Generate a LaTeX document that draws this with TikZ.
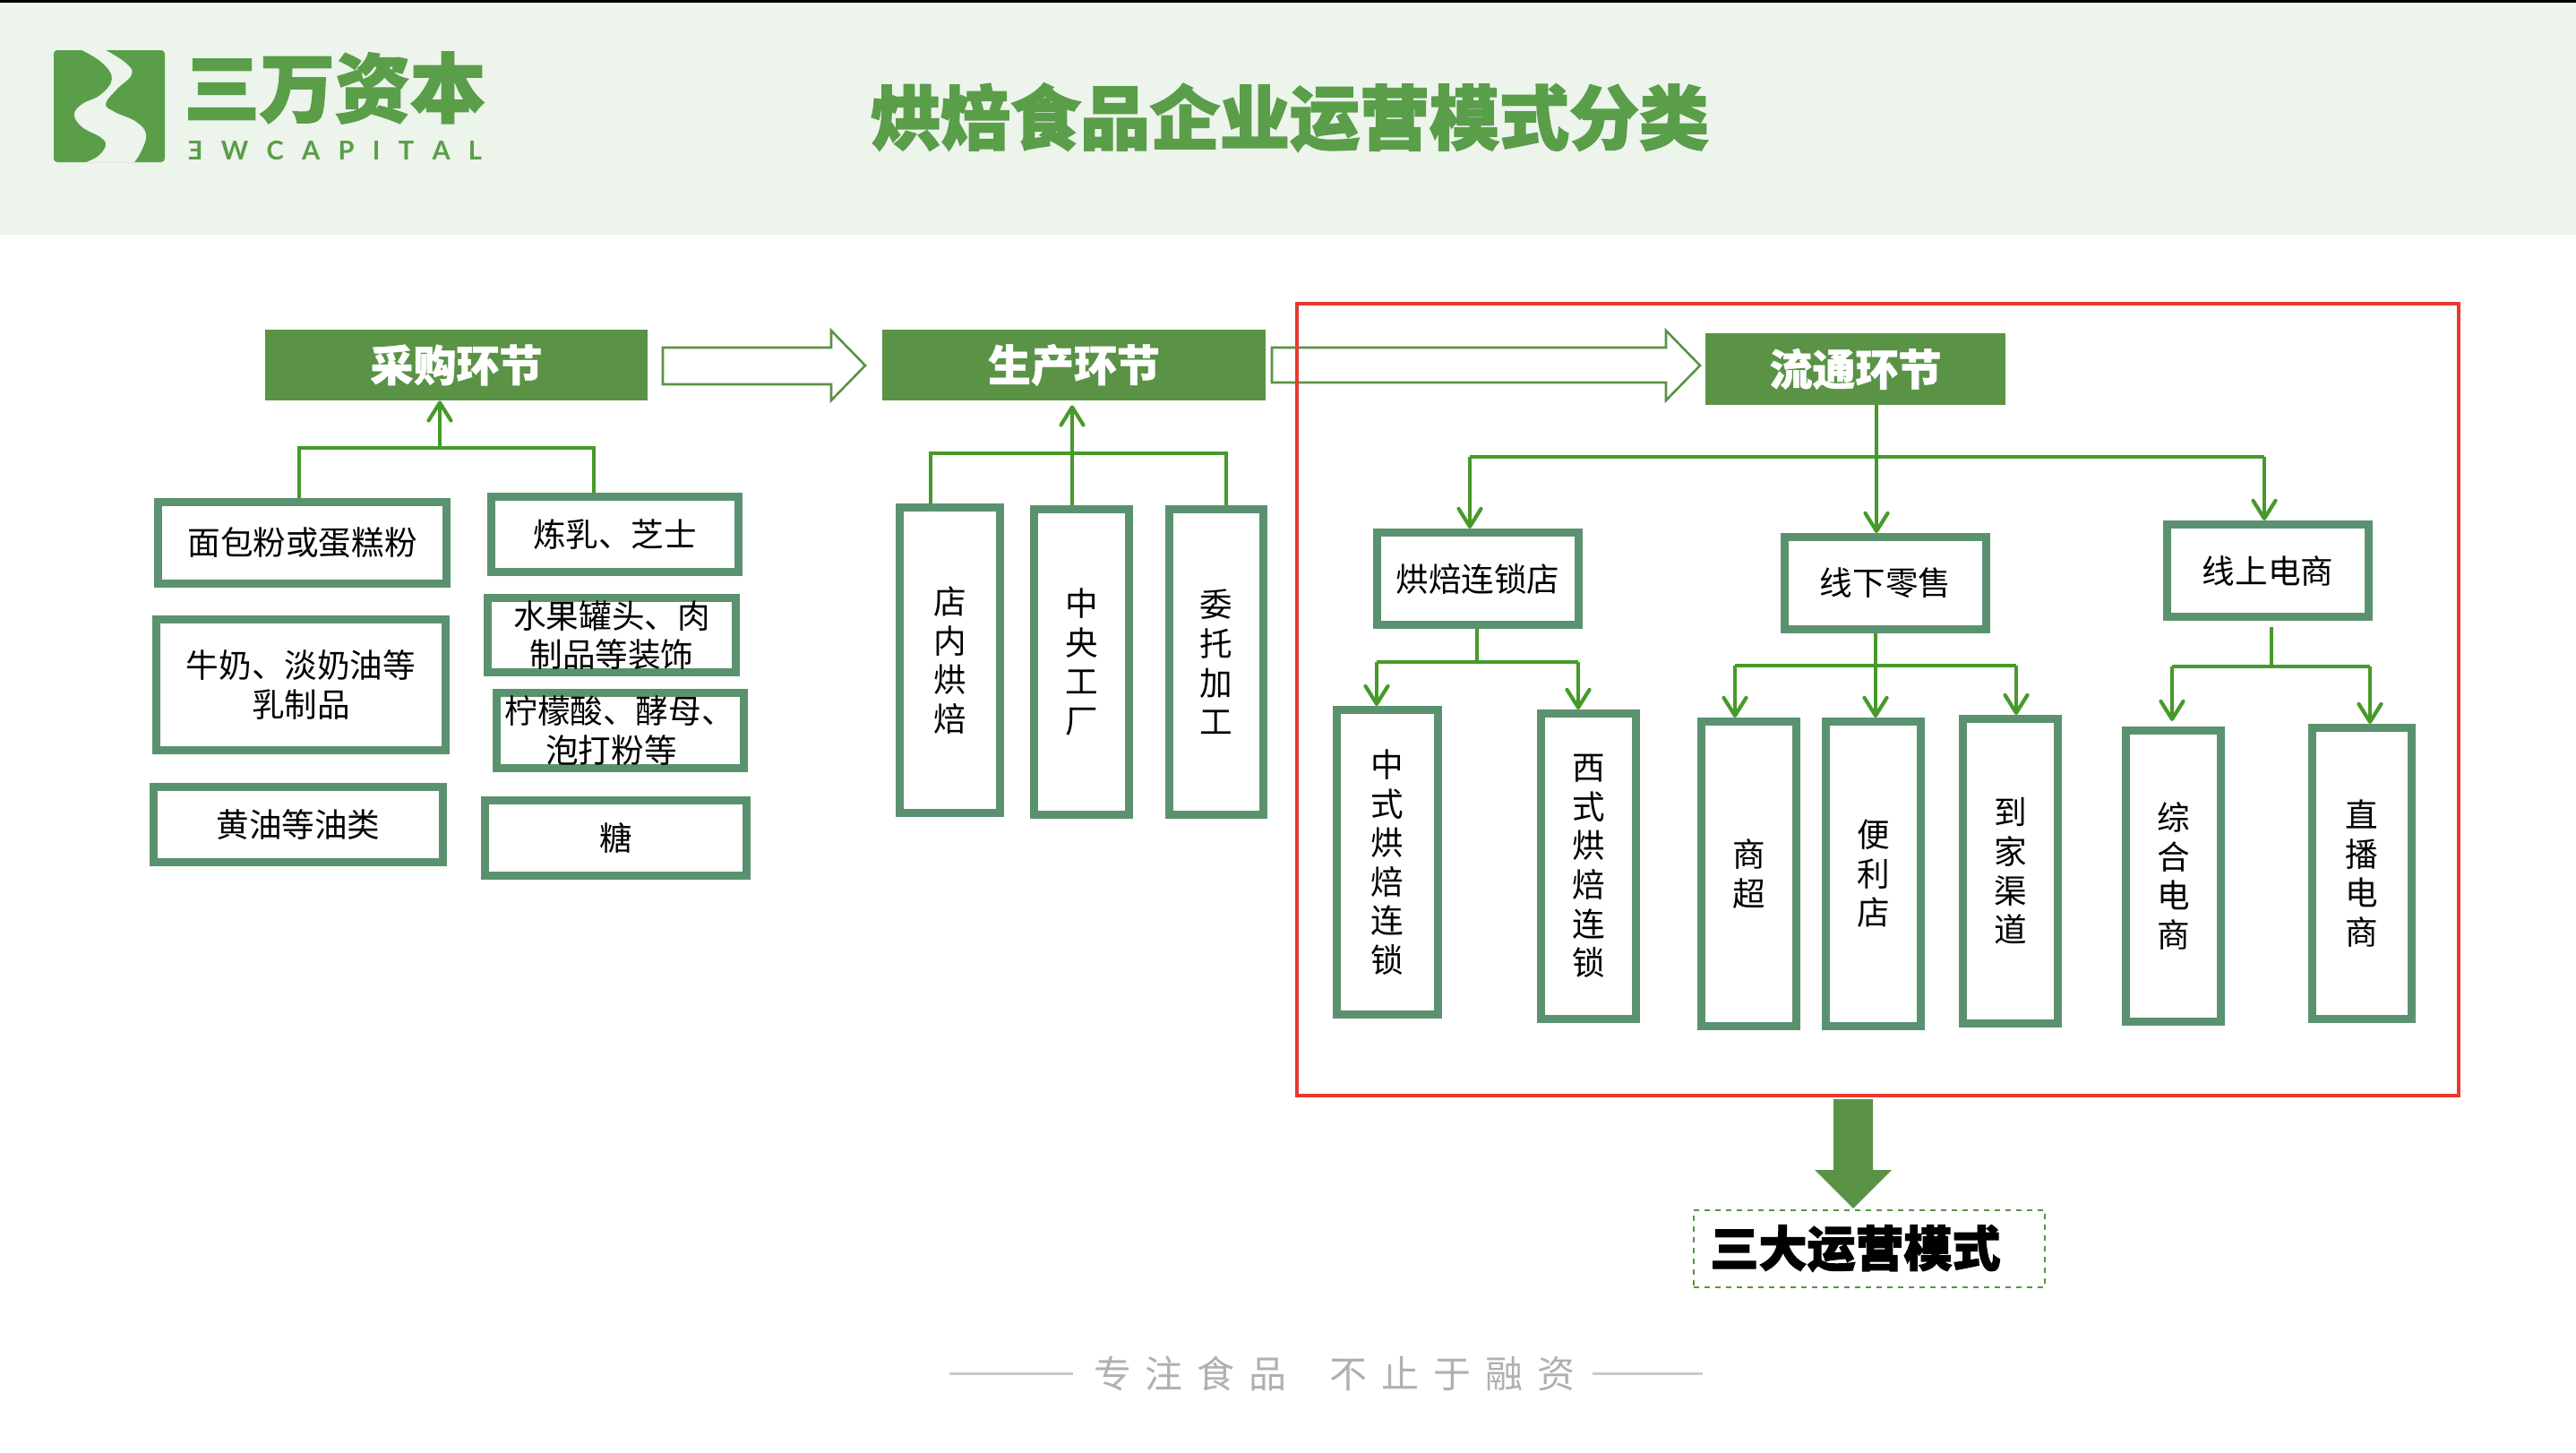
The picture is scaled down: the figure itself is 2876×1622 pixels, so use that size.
\documentclass[tikz,border=0pt]{standalone}
\usepackage{fontspec}
\usepackage{graphicx}
\usetikzlibrary{arrows.meta,calc}
\setmainfont{Noto Sans CJK SC}
\newfontfamily\hvf[BoldFeatures={FakeBold=1}]{Noto Sans CJK SC}
\newfontfamily\hvx[BoldFeatures={FakeBold=2.2}]{Noto Sans CJK SC}
\newfontfamily\latf{Lato}
\definecolor{band}{HTML}{EDF4EC}
\definecolor{logog}{HTML}{5A9E49}
\definecolor{headg}{HTML}{5A9346}
\definecolor{boxg}{HTML}{5A9270}
\definecolor{lineg}{HTML}{479A2A}
\definecolor{redl}{HTML}{E8392F}
\tikzset{
  greenbox/.style={draw=boxg,line width=4.5pt,fill=white,inner sep=0pt,align=center,font=\fontsize{18.3}{21.8}\selectfont,text=black},
  headbox/.style={fill=headg,inner sep=0pt,align=center,text=white,font=\hvf\bfseries\fontsize{24}{24}\selectfont},
  conn/.style={draw=lineg,line width=2.1pt},
  connarrow/.style={conn,-{Straight Barb[length=10pt,width=12.5pt,round]}},
  hollow/.style={draw=headg,line width=1.3pt,fill=white,line join=miter},
}
\newcommand\gb[6]{%
  \pgfmathsetmacro\ccx{(#2+#4)/2}\pgfmathsetmacro\ccy{(#3+#5)/2}%
  \pgfmathsetmacro\ww{(#4-#2-9)*0.5}\pgfmathsetmacro\hh{(#5-#3-9)*0.5}%
  \node[greenbox,minimum width=\ww pt,minimum height=\hh pt] (#1) at (\ccx,\ccy) {#6};}
\newcommand\hb[6]{%
  \pgfmathsetmacro\ccx{(#2+#4)/2}\pgfmathsetmacro\ccy{(#3+#5)/2}%
  \pgfmathsetmacro\ww{(#4-#2)*0.5}\pgfmathsetmacro\hh{(#5-#3)*0.5}%
  \node[headbox,minimum width=\ww pt,minimum height=\hh pt] (#1) at (\ccx,\ccy) {#6};}
\begin{document}
\begin{tikzpicture}[x=0.5pt,y=-0.5pt]
\path[use as bounding box,fill=white] (0,0) rectangle (2876,1622);
% header band
\fill[band] (0,0) rectangle (2876,262);
\fill[black] (0,0) rectangle (2876,2.5);
% logo
\fill[logog,rounded corners=2pt] (60,56) rectangle (184,181);
\fill[band] plot[smooth,tension=.7] coordinates {(91.5,56) (114,70) (125,88) (112,106) (92,116) (83,128) (92,142) (112,153) (118,162) (110,174) (96,181)}
  -- plot[smooth,tension=.7] coordinates {(150,181) (158,168) (163,150) (152,136) (128,125) (118,116) (130,100) (147,83) (140,70) (118,56)} -- cycle;
\node[inner sep=0pt,text=logog,font=\hvx\bfseries\fontsize{42}{42}\selectfont] (logotext) at (374,98) {三万资本};
\node[inner sep=0pt,text=logog,font=\latf\bfseries\fontsize{14.5}{14.5}\selectfont] (logosub) at (374,168.5) {\makebox[164pt][s]{\reflectbox{E}\hfill W\hfill C\hfill A\hfill P\hfill I\hfill T\hfill A\hfill L}};
% title
\node[inner sep=0pt,text=logog,font=\hvx\bfseries\fontsize{39}{39}\selectfont] (title) at (1440,131) {烘焙食品企业运营模式分类};
% stage headers
\hb{caigou}{296}{368}{723}{447}{采购环节}
\hb{shengchan}{985}{368}{1413}{447}{生产环节}
\hb{liutong}{1904}{372}{2239}{452}{流通环节}
% hollow arrows
\draw[hollow] (740,388) -- (928,388) -- (928,369) -- (966,408) -- (928,447) -- (928,429) -- (740,429) -- cycle;
\draw[hollow] (1420,388) -- (1860,388) -- (1860,369) -- (1898,408) -- (1860,447) -- (1860,427) -- (1420,427) -- cycle;
% red frame
\draw[redl,line width=2pt] (1448,339) rectangle (2745,1223);
% purchase boxes
\gb{mianbao}{172}{556}{503}{656}{面包粉或蛋糕粉}
\gb{niunai}{170}{687}{502}{842}{牛奶、淡奶油等\\乳制品}
\gb{huangyou}{167}{874}{499}{967}{黄油等油类}
\gb{lianru}{544}{550}{829}{643}{炼乳、芝士}
\gb{shuiguo}{540}{663}{826}{755}{水果罐头、肉\\制品等装饰}
\gb{ningmeng}{550}{769}{835}{862}{\hspace*{-1pt}柠檬酸、酵母、\\\hspace*{-10pt}泡打粉等}
\gb{tang}{537}{889}{838}{982}{糖}
\coordinate (cgL) at (334,500);
\coordinate (cgR) at (663,500);
\coordinate (cgJ) at (491,500);
\draw[conn] (cgL |- mianbao.north) -- (cgL) -- (cgR) -- (cgR |- lianru.north);
\draw[connarrow] (cgJ) -- (cgJ |- caigou.south);
% production boxes
\gb{dian}{1000}{562}{1121}{912}{店\\内\\烘\\焙}
\gb{zhongyang}{1150}{564}{1265}{914}{中\\央\\工\\厂}
\gb{weituo}{1301}{564}{1415}{914}{委\\托\\加\\工}
\coordinate (scL) at (1039,506);
\coordinate (scJ) at (1197,506);
\coordinate (scR) at (1369,506);
\draw[conn] (scL |- dian.north) -- (scL) -- (scR) -- (scR |- weituo.north);
\draw[conn] (scJ |- zhongyang.north) -- (scJ);
\draw[connarrow] (scJ) -- ($(scJ |- shengchan.south)+(0,5)$);
% distribution tier 1
\gb{hongbei}{1533}{590}{1767}{702}{烘焙连锁店}
\gb{xianxia}{1988}{595}{2222}{707}{线下零售}
\gb{xianshang}{2415}{581}{2649}{693}{线上电商}
\coordinate (ltJ) at (2095,510);
\coordinate (ltL) at (1641,510);
\coordinate (ltR) at (2528,510);
\draw[conn] (ltL) -- (ltR);
\draw[conn] (ltJ |- liutong.south) -- (ltJ);
\draw[connarrow] (ltJ) -- (ltJ |- xianxia.north);
\draw[connarrow] (ltL) -- (ltL |- hongbei.north);
\draw[connarrow] (ltR) -- (ltR |- xianshang.north);
% distribution tier 2
\gb{zhongshi}{1488}{788}{1610}{1137}{中\\式\\烘\\焙\\连\\锁}
\gb{xishi}{1716}{792}{1831}{1142}{西\\式\\烘\\焙\\连\\锁}
\gb{shangchao}{1895}{801}{2010}{1150}{商\\超}
\gb{bianli}{2034}{801}{2149}{1150}{便\\利\\店}
\gb{daojia}{2187}{798}{2302}{1147}{到\\家\\渠\\道}
\gb{zonghe}{2369}{811}{2484}{1145}{综\\合\\电\\商}
\gb{zhibo}{2577}{808}{2697}{1142}{直\\播\\电\\商}
% branches
\coordinate (a1) at (1649,739); \coordinate (a2) at (1537,739); \coordinate (a3) at (1762,739);
\draw[conn] (a2) -- (a3);
\draw[conn] (a1 |- hongbei.south) -- (a1);
\draw[connarrow] (a2) -- (a2 |- zhongshi.north);
\draw[connarrow] (a3) -- (a3 |- xishi.north);
\coordinate (b1) at (2094,743); \coordinate (b2) at (1937,743); \coordinate (b3) at (2251,743);
\draw[conn] (b2) -- (b3);
\draw[conn] (b1 |- xianxia.south) -- (b1);
\draw[connarrow] (b2) -- (b2 |- shangchao.north);
\draw[connarrow] (b1) -- (b1 |- bianli.north);
\draw[connarrow] (b3) -- (b3 |- daojia.north);
\coordinate (c1) at (2536,744); \coordinate (c2) at (2425,744); \coordinate (c3) at (2646,744);
\coordinate (c0) at (2536,700);
\draw[conn] (c2) -- (c3);
\draw[conn] (c0) -- (c1);
\draw[connarrow] (c2) -- ($(c2 |- zonghe.north)+(0,-6)$);
\draw[connarrow] (c3) -- (c3 |- zhibo.north);
% three modes
\node[draw=headg,dashed,line width=1pt,inner sep=0pt,minimum width=196pt,minimum height=43pt,text=black,font=\hvx\bfseries\fontsize{27}{27}\selectfont] (modes) at (2086.5,1393.5) {\hspace*{-15pt}三大运营模式};
\coordinate (tipm) at (2069,1349);
\fill[headg] (2047,1227) -- (2091,1227) -- (2091,1306) -- (2112,1306) -- (tipm) -- (2026,1306) -- (2047,1306) -- cycle;
% slogan
\node[inner sep=0pt,text=black!31,font=\fontsize{21}{21}\selectfont] (slogan) at (1490,1533) {\makebox[269pt][s]{专\hfill{}注\hfill{}食\hfill{}品\hfill\hfill\hfill{}不\hfill{}止\hfill{}于\hfill{}融\hfill{}资}};
\coordinate (sl1) at (1060,1533); \coordinate (sl2) at (1901,1533);
\draw[black!21,line width=1.5pt] (sl1) -- ($(slogan.west)+(-23,0)$);
\draw[black!21,line width=1.5pt] ($(slogan.east)+(19,0)$) -- (sl2);
\end{tikzpicture}
\end{document}
